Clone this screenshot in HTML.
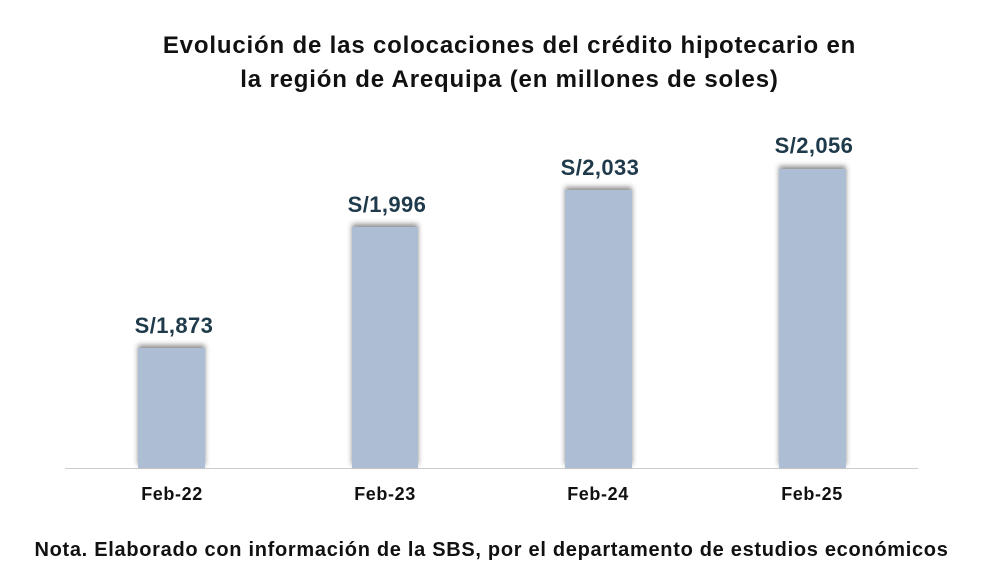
<!DOCTYPE html>
<html><head><style>
body{margin:0;width:995px;height:585px;background:#fff;position:relative;font-family:"Liberation Sans",Arial,sans-serif;overflow:hidden}
.t{position:absolute;left:12px;width:995px;text-align:center;font-weight:bold;font-size:24px;letter-spacing:0.83px;color:#111}
.bar{position:absolute;background:#adbdd3;box-shadow:0 -3px 5px rgba(0,0,0,0.45);}
.v{position:absolute;width:160px;text-align:center;font-weight:bold;font-size:22px;letter-spacing:0.4px;color:#1f3a4a}
.x{position:absolute;width:160px;text-align:center;font-weight:bold;font-size:18px;letter-spacing:0.6px;color:#111;top:484px}
</style></head><body>
<div class="t" style="top:32px">Evolución de las colocaciones del crédito hipotecario en</div>
<div class="t" style="top:66px">la región de Arequipa (en millones de soles)</div>
<div style="position:absolute;left:65px;top:468px;width:853px;height:1px;background:#ccc"></div>
<div class="bar" style="left:138px;top:348px;width:67px;height:120px"></div>
<div class="bar" style="left:352px;top:227px;width:66px;height:241px"></div>
<div class="bar" style="left:565px;top:190px;width:67px;height:278px"></div>
<div class="bar" style="left:779px;top:169px;width:67px;height:299px"></div>
<div class="v" style="left:94px;top:313px">S/1,873</div>
<div class="v" style="left:307px;top:192px">S/1,996</div>
<div class="v" style="left:520px;top:155px">S/2,033</div>
<div class="v" style="left:734px;top:133px">S/2,056</div>
<div class="x" style="left:92px">Feb-22</div>
<div class="x" style="left:305px">Feb-23</div>
<div class="x" style="left:518px">Feb-24</div>
<div class="x" style="left:732px">Feb-25</div>
<div style="position:absolute;left:-6px;width:995px;text-align:center;top:539px;font-weight:bold;font-size:20px;letter-spacing:0.7px;color:#111">Nota. Elaborado con información de la SBS, por el departamento de estudios económicos</div>
</body></html>
